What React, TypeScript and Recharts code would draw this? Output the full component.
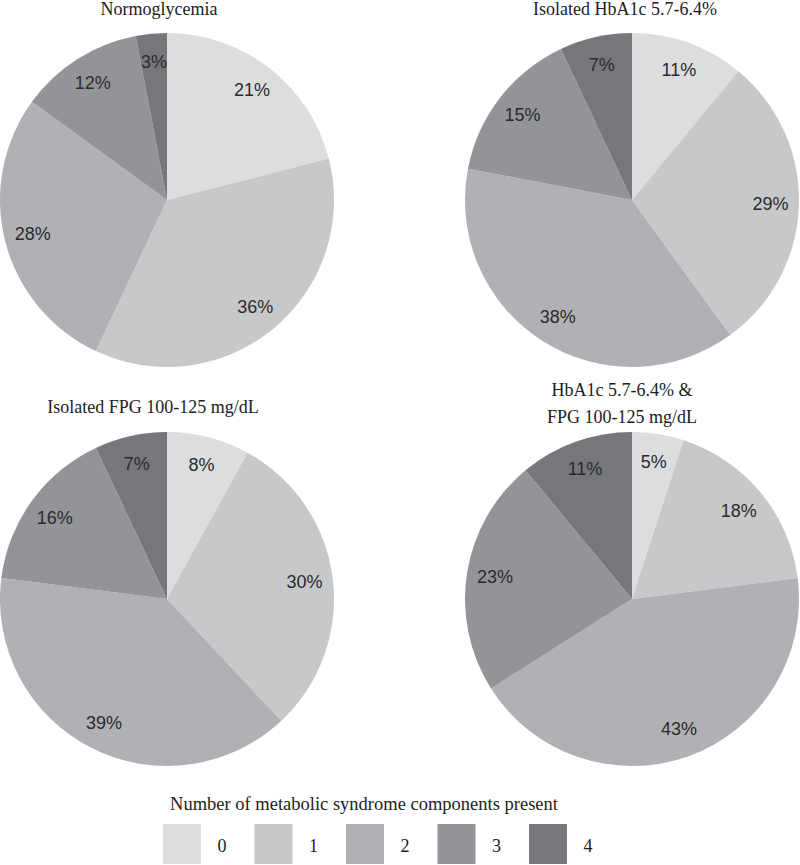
import * as React from "react";
import { Cell, Pie, PieChart } from "recharts";

const components = ["0", "1", "2", "3", "4"];
const normoglycemia = [21, 36, 28, 12, 3];
const isolatedHbA1c = [11, 29, 38, 15, 7];
const isolatedFpg = [8, 30, 39, 16, 7];
const bothHbA1cFpg = [5, 18, 43, 23, 11];

const sliceColors = ["#dcdddf", "#c7c8ca", "#b0b1b4", "#939498", "#76777b"];

const W = 800;
const H = 865;
const R = 167;
const RAD = Math.PI / 180;

const panels = [
  { key: "normo", values: normoglycemia, cx: 167, cy: 200 },
  { key: "hba1c", values: isolatedHbA1c, cx: 632, cy: 200 },
  { key: "fpg", values: isolatedFpg, cx: 167, cy: 599 },
  { key: "both", values: bothHbA1cFpg, cx: 632, cy: 599 }
];

function toRows(values: number[]) {
  return components.map((c, i) => ({ name: c, value: values[i] }));
}

function renderLabel(props: any) {
  const { cx, cy, midAngle, outerRadius, value } = props;
  const r = outerRadius * 0.83;
  const x = cx + r * Math.cos(-midAngle * RAD);
  const y = cy + r * Math.sin(-midAngle * RAD);
  return (
    <text
      x={x}
      y={y}
      fill="#2b2b2b"
      fontSize={18}
      fontFamily="'Liberation Sans', Arial, sans-serif"
      textAnchor="middle"
      dominantBaseline="central"
    >
      {`${value}%`}
    </text>
  );
}

const serif = "'Liberation Serif', 'Times New Roman', serif";

export default function App() {
  return (
    <div style={{ position: "absolute", left: 0, top: 0, width: W, height: H, background: "#fff" }}>
      <PieChart width={W} height={H} margin={{ top: 0, right: 0, bottom: 0, left: 0 }}>
        {panels.map((p) => (
          <Pie
            key={p.key}
            data={toRows(p.values)}
            dataKey="value"
            nameKey="name"
            cx={p.cx}
            cy={p.cy}
            outerRadius={R}
            startAngle={90}
            endAngle={-270}
            stroke="none"
            label={renderLabel}
            labelLine={false}
            isAnimationActive={false}
          >
            {p.values.map((_, i) => (
              <Cell key={i} fill={sliceColors[i]} />
            ))}
          </Pie>
        ))}
      </PieChart>
      <svg
        width={W}
        height={H}
        style={{ position: "absolute", left: 0, top: 0, pointerEvents: "none" }}
      >
        <g fontFamily={serif} fontSize={18} fill="#222" textAnchor="middle">
          <text x={159} y={15}>Normoglycemia</text>
          <text x={625} y={15}>Isolated HbA1c 5.7-6.4%</text>
          <text x={153} y={413}>Isolated FPG 100-125 mg/dL</text>
          <text x={622} y={396}>HbA1c 5.7-6.4% &amp;</text>
          <text x={622} y={423}>FPG 100-125 mg/dL</text>
          <text x={364} y={810} fontSize={18.5}>Number of metabolic syndrome components present</text>
        </g>
        {components.map((c, i) => (
          <g key={c}>
            <rect x={163 + i * 91.5} y={824} width={38} height={40} fill={sliceColors[i]} />
            <text
              x={222 + i * 91.5}
              y={852}
              fontFamily={serif}
              fontSize={18}
              fill="#222"
              textAnchor="middle"
            >
              {c}
            </text>
          </g>
        ))}
      </svg>
    </div>
  );
}
